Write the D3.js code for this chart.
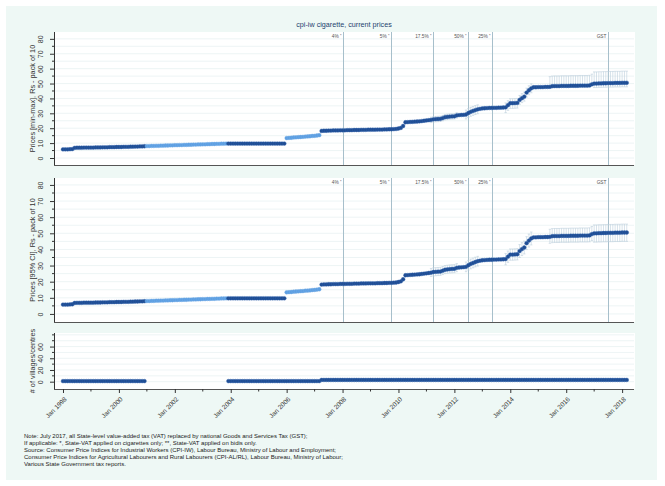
<!DOCTYPE html>
<html><head><meta charset="utf-8">
<script src="https://cdn.jsdelivr.net/npm/d3@7"></script>
<style>body{margin:0;background:#fff}svg{display:block;font-family:"Liberation Sans",Arial,sans-serif}</style>
</head><body><svg id="c" width="665" height="486"></svg>
<script>
// ---------------- DATA ----------------
const firstMonth = "1998-01";
// monthly price, Rs per pack of 10 (Jan 1998 .. Mar 2018)
const price = [
  5.8,5.8,5.8,5.9,6.0,6.8,6.9,6.9,6.9,7.0,7.0,7.0,        // 1998
  7.0,7.0,7.1,7.1,7.1,7.2,7.2,7.2,7.3,7.3,7.3,7.4,        // 1999
  7.4,7.4,7.5,7.5,7.5,7.6,7.6,7.7,7.7,7.8,7.8,7.9,        // 2000
  8.0,8.0,8.1,8.1,8.2,8.2,8.3,8.3,8.4,8.4,8.5,8.5,        // 2001
  8.6,8.6,8.7,8.7,8.8,8.8,8.9,8.9,9.0,9.0,9.1,9.1,        // 2002
  9.2,9.2,9.3,9.3,9.4,9.4,9.5,9.5,9.6,9.6,9.7,9.7,        // 2003
  9.7,9.7,9.7,9.7,9.7,9.7,9.7,9.7,9.7,9.7,9.7,9.7,        // 2004
  9.7,9.7,9.7,9.7,9.7,9.7,9.7,9.7,9.7,9.7,9.7,9.7,        // 2005
  13.4,13.5,13.6,13.8,13.9,14.0,14.1,14.2,14.4,14.5,14.6,14.8, // 2006
  14.9,15.1,15.3,18.2,18.3,18.3,18.4,18.4,18.5,18.5,18.5,18.6, // 2007
  18.6,18.6,18.7,18.7,18.7,18.8,18.8,18.8,18.9,18.9,18.9,19.0, // 2008
  19.0,19.0,19.0,19.1,19.1,19.1,19.2,19.2,19.3,19.3,19.4,19.5, // 2009
  19.8,20.2,21.5,24.0,24.1,24.2,24.3,24.4,24.5,24.6,24.8,25.0, // 2010
  25.2,25.4,25.6,26.0,26.1,26.2,26.3,26.8,27.4,27.6,27.8,27.9, // 2011
  28.0,28.6,28.8,28.9,29.0,29.2,30.2,31.0,31.6,32.2,32.7,33.0, // 2012
  33.3,33.4,33.5,33.6,33.6,33.7,33.7,33.8,33.8,33.9,34.0,35.5, // 2013
  36.8,36.8,36.9,37.0,39.0,40.2,41.2,43.9,45.5,46.8,47.5,47.5, // 2014
  47.6,47.6,47.6,47.7,47.7,47.8,48.2,48.3,48.3,48.3,48.4,48.4, // 2015
  48.4,48.4,48.5,48.5,48.5,48.5,48.6,48.6,48.6,48.6,48.7,49.5, // 2016
  50.0,50.0,50.1,50.1,50.2,50.2,50.3,50.3,50.3,50.4,50.4,50.4, // 2017
  50.5,50.5,50.5                                           // 2018
];
// periods drawn in light blue (imputed)
const imputedPeriods = [["2001-01","2003-11"],["2006-01","2007-03"]];
// number of villages/centres per month
const villages = [
  1,1,1,1,1,1,1,1,1,1,1,1, 1,1,1,1,1,1,1,1,1,1,1,1, 1,1,1,1,1,1,1,1,1,1,1,1,
  null,null,null,null,null,null,null,null,null,null,null,null,
  null,null,null,null,null,null,null,null,null,null,null,null,
  null,null,null,null,null,null,null,null,null,null,null,1,
  1,1,1,1,1,1,1,1,1,1,1,1, 1,1,1,1,1,1,1,1,1,1,1,1, 1,1,1,1,1,1,1,1,1,1,1,1,
  1,1,1,3,3,3,3,3,3,3,3,3,
  3,3,3,3,3,3,3,3,3,3,3,3, 3,3,3,3,3,3,3,3,3,3,3,3, 3,3,3,3,3,3,3,3,3,3,3,3,
  3,3,3,3,3,3,3,3,3,3,3,3, 3,3,3,3,3,3,3,3,3,3,3,3, 3,3,3,3,3,3,3,3,3,3,3,3,
  3,3,3,3,3,3,3,3,3,3,3,3, 3,3,3,3,3,3,3,3,3,3,3,3, 3,3,3,3,3,3,3,3,3,3,3,3,
  3,3,3,3,3,3,3,3,3,3,3,3, 3,3,3
];
// [from, to, below, above] spread around price : min-max
const minMaxSpread = [
  ["2006-01","2007-03",0.8,0.8],
  ["2011-03","2012-02",1.8,1.8],
  ["2012-06","2012-11",3.0,3.0],
  ["2013-11","2014-04",3.5,3.0],
  ["2014-05","2014-10",3.0,3.0],
  ["2015-06","2016-12",1.0,6.8],
  ["2017-01","2018-03",2.7,7.8]
];
// 95% CI
const ciSpread = [
  ["2006-01","2007-03",0.8,0.8],
  ["2011-03","2012-02",2.4,2.6],
  ["2012-06","2012-11",3.0,3.0],
  ["2013-11","2014-04",3.5,3.5],
  ["2014-05","2014-10",4.0,4.0],
  ["2015-06","2016-12",4.0,4.7],
  ["2017-01","2018-03",5.5,5.2]
];
const eventDates  = ["2008-01","2009-10","2011-04","2012-07","2013-05","2017-07"];
const eventLabels = ["4%*","5%*","17.5%*","50%*","25%*","GST"];
const xTickYears = [1998,2000,2002,2004,2006,2008,2010,2012,2014,2016,2018];
const xMinorYears = [1999,2001,2003,2005,2007,2009,2011,2013,2015,2017];
const priceTicks = [0,10,20,30,40,50,60,70,80];
const villageTicks = [0,20,40,60];
const titleText = "cpi-iw cigarette, current prices";
const yTitles = ["Prices [min-max], Rs - pack of 10","Prices [95% CI], Rs - pack of 10","# of villages/centres"];
const notes = [
  "Note: July 2017, all State-level value-added tax (VAT) replaced by national Goods and Services Tax (GST);",
  "If applicable: *, State-VAT applied on cigarettes only; **, State-VAT applied on bidis only.",
  "Source: Consumer Price Indices for Industrial Workers (CPI-IW), Labour Bureau, Ministry of Labour and Employment;",
  "Consumer Price Indices for Agricultural Labourers and Rural Labourers (CPI-AL/RL), Labour Bureau, Ministry of Labour;",
  "Various State Government tax reports."
];

// ---------------- HELPERS ----------------
const mIdx = s => { const [y,m] = s.split("-").map(Number); const [y0,m0] = firstMonth.split("-").map(Number); return (y-y0)*12 + (m-m0); };
const isImputed = i => imputedPeriods.some(([a,b]) => i >= mIdx(a) && i <= mIdx(b));
const monthYear = y => (y - 1998) * 12;

const DARK = "#1f4d93", LIGHT = "#5d9fe2", BAR = "#bccfdc", EVT = "#a7bfcb";
const svg = d3.select("#c");
svg.append("rect").attr("x",6).attr("y",6).attr("width",651).attr("height",474).attr("fill","#eef8f5");

const L = 54, R = 634;
const x = d3.scaleLinear().domain([-3.86, 245.1]).range([L, R]);

svg.append("text").attr("x",(L+R)/2).attr("y",27).attr("text-anchor","middle")
  .attr("font-size",7.2).attr("fill","#1d3f6e").text(titleText);

function panel(top, bottom, domain, ticks, minor, grid, yTitle, opts) {
  const y = d3.scaleLinear().domain(domain).range([bottom, top]);
  const g = svg.append("g");
  g.append("rect").attr("x",L).attr("y",top).attr("width",R-L+1).attr("height",bottom-top).attr("fill","#fff");
  // gridlines
  g.selectAll(".gr").data(grid).join("line")
    .attr("x1",L).attr("x2",R).attr("y1",d=>y(d)).attr("y2",d=>y(d))
    .attr("stroke","#e9f1f3").attr("stroke-width",0.8);
  // event lines
  if (opts.events) {
    eventDates.forEach((d,i) => {
      const xx = Math.round(x(mIdx(d))) + 0.5;
      g.append("line").attr("x1",xx).attr("x2",xx).attr("y1",top).attr("y2",bottom)
        .attr("stroke",EVT).attr("stroke-width",1);
      const parts = eventLabels[i].split("*");
      const t = g.append("text").attr("x",xx-2).attr("y",top+6).attr("text-anchor","end")
        .attr("font-size",4.8).attr("fill","#555");
      t.append("tspan").text(parts[0]);
      if (eventLabels[i].includes("*")) t.append("tspan").attr("dx",1.2).attr("dy",-0.8).attr("font-size",4).text("*");
    });
  }
  // y axis
  const ax = d3.axisLeft(y).tickValues(ticks).tickSize(4).tickFormat(d3.format("d"));
  const ag = g.append("g").attr("transform",`translate(${L},0)`).call(ax);
  ag.select(".domain").remove();
  ag.selectAll(".tick line").attr("stroke","#333");
  ag.selectAll(".tick text").attr("font-size",7).attr("fill","#333").attr("font-family","Liberation Sans, Arial, sans-serif")
    .attr("transform",d=>`rotate(-90, -9, ${0})`).attr("x",-9).attr("dy","0").attr("text-anchor","middle").attr("y",-2.5);
  g.selectAll(".mn").data(minor).join("line").attr("x1",L-2).attr("x2",L).attr("y1",d=>y(d)).attr("y2",d=>y(d)).attr("stroke","#333");
  g.append("line").attr("x1",L+0.5).attr("x2",L+0.5).attr("y1",top).attr("y2",bottom).attr("stroke","#333");
  g.append("line").attr("x1",L).attr("x2",R).attr("y1",bottom+0.5).attr("y2",bottom+0.5).attr("stroke","#555").attr("stroke-width",1.2);
  g.append("text").attr("transform",`translate(35,${(top+bottom)/2}) rotate(-90)`).attr("text-anchor","middle")
    .attr("font-size",7.3).attr("fill","#333").text(yTitle);
  // error bars
  if (opts.spread) {
    const bars = [];
    opts.spread.forEach(([a,b,lo,hi]) => { for (let i=mIdx(a); i<=mIdx(b); i++) bars.push({i, lo:price[i]-lo, hi:price[i]+hi}); });
    const bg = g.append("g").attr("stroke",BAR).attr("stroke-width",0.6).attr("fill","none");
    bars.forEach(d => {
      const xx = x(d.i);
      bg.append("line").attr("x1",xx).attr("x2",xx).attr("y1",y(d.lo)).attr("y2",y(d.hi));
      bg.append("line").attr("x1",xx-1.2).attr("x2",xx+1.2).attr("y1",y(d.lo)).attr("y2",y(d.lo));
      bg.append("line").attr("x1",xx-1.2).attr("x2",xx+1.2).attr("y1",y(d.hi)).attr("y2",y(d.hi));
    });
  }
  // markers
  const pts = opts.values.map((v,i)=>({i,v})).filter(d=>d.v!=null);
  g.append("g").selectAll("circle").data(pts).join("circle")
    .attr("cx",d=>x(d.i)).attr("cy",d=>y(d.v)).attr("r",1.9)
    .attr("fill",d=> opts.colorByImputed && isImputed(d.i) ? LIGHT : DARK)
    .attr("stroke",d=> opts.colorByImputed && isImputed(d.i) ? "#76afe8" : "#2f62ad").attr("stroke-width",0.4);
  return {g, y};
}

panel(32, 165, [-4.7, 84.6], priceTicks, [5,15,25,35,45,55,65,75],
  d3.range(0, 85, 5), yTitles[0], {events:true, spread:minMaxSpread, values:price, colorByImputed:true});
panel(178, 322, [-5, 84.3], priceTicks, [5,15,25,35,45,55,65,75],
  d3.range(0, 85, 5), yTitles[1], {events:true, spread:ciSpread, values:price, colorByImputed:true});
const bottomP = panel(333, 389, [-12.5, 83.2], villageTicks, [10,30,50,70,80],
  d3.range(0, 85, 10), yTitles[2], {events:false, values:villages, colorByImputed:false});

// x axis on bottom panel
const xa = d3.axisBottom(x).tickValues(xTickYears.map(monthYear)).tickSize(4)
  .tickFormat(d => "Jan " + (1998 + d/12));
const xg = svg.append("g").attr("transform",`translate(0,389)`).call(xa);
xg.select(".domain").remove();
xg.selectAll(".tick line").attr("stroke","#333");
xg.selectAll(".tick text").attr("font-size",6.5).attr("fill","#333").attr("font-family","Liberation Sans, Arial, sans-serif")
  .attr("text-anchor","end").attr("transform","translate(2,9) rotate(-45)").attr("y",0).attr("x",0).attr("dy","0.35em");
svg.selectAll(".xmn").data(xMinorYears).join("line")
  .attr("x1",d=>x(monthYear(d))).attr("x2",d=>x(monthYear(d))).attr("y1",389).attr("y2",391.5).attr("stroke","#333");

// notes
svg.append("g").selectAll("text").data(notes).join("text")
  .attr("x",24).attr("y",(d,i)=>438 + i*7.1).attr("font-size",6).attr("fill","#222").text(d=>d);
</script></body></html>
